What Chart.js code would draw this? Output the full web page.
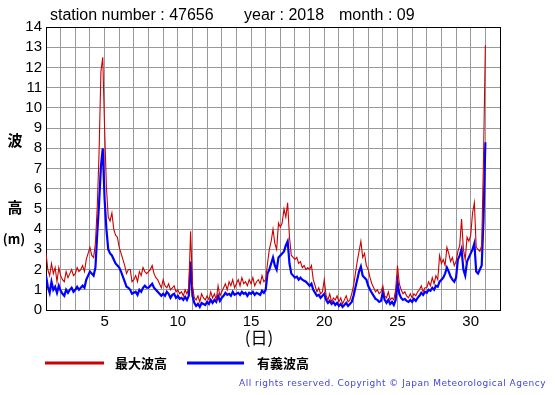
<!DOCTYPE html>
<html>
<head>
<meta charset="utf-8">
<script src="https://cdn.jsdelivr.net/npm/chart.js@4"></script>
<style>
  html, body { margin: 0; padding: 0; background: #fff; }
  #wrap { position: relative; width: 555px; height: 395px; }
</style>
</head>
<body>
<div id="wrap"><canvas id="wave" width="555" height="395"></canvas></div>
<script>
const stationText = "station number : 47656";
const yearText = "year : 2018";
const monthText = "month : 09";
const seriesNames = ["最大波高", "有義波高"];
const xTickLabels = [5, 10, 15, 20, 25, 30];
const yTickLabels = [0, 1, 2, 3, 4, 5, 6, 7, 8, 9, 10, 11, 12, 13, 14];

// 3-hourly readings, from day 1 00:00 to day 31 00:00 (one row per day)
const stepHours = 3;
const maxWave = [
    2.8, 2.0, 1.7, 2.3, 1.8, 2.1, 1.4, 2.1,
    1.7, 1.5, 1.4, 1.9, 1.6, 1.8, 2.0, 1.7,
    1.8, 2.1, 1.9, 2.0, 2.2, 1.9, 2.5, 2.8,
    3.1, 2.7, 2.6, 3.3, 5.1, 7.8, 11.8, 12.5,
    9.0, 6.1, 4.6, 4.4, 4.8, 4.0, 3.7, 3.6,
    3.1, 2.8, 2.5, 2.2, 1.8, 2.0, 2.0, 1.4,
    1.5, 1.7, 1.4, 1.9, 1.7, 2.1, 1.9, 1.8,
    1.9, 2.0, 2.2, 1.8, 1.6, 1.5, 1.3, 1.1,
    1.5, 1.2, 1.1, 1.3, 1.0, 1.1, 1.2, 0.9,
    1.0, 0.8, 0.9, 0.7, 1.0, 0.8, 1.1, 3.9,
    1.2, 0.6, 0.5, 0.7, 0.4, 0.8, 0.6, 0.5,
    0.7, 0.5, 0.9, 0.6, 0.8, 0.5, 1.2, 0.7,
    0.9, 1.1, 1.3, 1.0, 1.4, 1.2, 1.5, 1.1,
    1.3, 1.5, 1.2, 1.6, 1.3, 1.4, 1.2, 1.5,
    1.3, 1.6, 1.2, 1.4, 1.5, 1.3, 1.7, 1.4,
    1.5, 2.3, 3.0, 3.4, 4.0, 3.3, 3.0, 4.3,
    4.1, 4.3, 5.0, 4.6, 5.3, 3.6, 2.7, 2.6,
    2.5, 2.6, 2.3, 2.4, 2.1, 2.2, 2.0, 2.1,
    2.0, 2.2, 1.5, 1.2, 0.9, 1.1, 0.8, 0.9,
    1.5, 0.7, 0.5, 0.8, 0.4, 0.6, 0.5, 0.7,
    0.4, 0.6, 0.3, 0.5, 0.7, 0.4, 0.5, 0.8,
    1.2, 1.8, 2.4, 2.9, 3.4, 2.6, 2.8, 2.2,
    2.0, 1.6, 1.3, 1.1, 0.9, 1.0, 0.8, 0.9,
    1.2, 0.7, 0.6, 0.9, 0.5, 0.6, 0.5, 1.0,
    2.2, 1.3, 1.0, 0.8, 0.9, 0.7, 0.6, 0.8,
    0.6, 0.8, 0.7, 0.9, 1.0, 1.2, 0.9, 1.1,
    1.1, 1.4, 1.2, 1.6, 1.3, 1.7, 1.5, 2.7,
    2.3, 2.5, 2.2, 3.1, 2.8, 2.4, 2.6, 2.2,
    2.4, 2.9, 3.2, 4.5, 3.0, 2.5, 3.6, 3.4,
    3.7, 4.8, 5.3, 3.1, 3.0, 2.9, 3.2, 7.5,
    13.1
];
const sigWave = [
    1.7, 1.15, 0.85, 1.4, 1.0, 1.15, 0.85, 1.2,
    0.95, 0.8, 0.7, 1.0, 0.85, 1.0, 1.1, 0.9,
    1.0, 1.15, 1.0, 1.1, 1.2, 1.1, 1.5, 1.7,
    1.9, 1.8, 1.7, 2.1, 3.8, 5.3, 7.1, 8.0,
    5.5, 4.0, 3.0, 2.8, 2.7, 2.5, 2.3, 2.2,
    2.1, 1.9, 1.65, 1.4, 1.15, 1.1, 1.0, 0.8,
    0.85, 0.9, 0.75, 1.0, 0.9, 1.1, 1.2, 1.1,
    1.1, 1.2, 1.3, 1.1, 1.0, 0.9, 0.8, 0.7,
    0.8, 0.7, 0.9, 0.8, 0.6, 0.75, 0.8, 0.6,
    0.7, 0.55, 0.6, 0.5, 0.65, 0.5, 0.7, 2.4,
    0.7, 0.35, 0.2, 0.3, 0.15, 0.35, 0.3, 0.25,
    0.4, 0.3, 0.5, 0.35, 0.5, 0.4, 0.7, 0.45,
    0.6, 0.7, 0.85, 0.75, 0.8, 0.7, 0.9, 0.75,
    0.8, 0.85, 0.75, 0.9, 0.8, 0.85, 0.7, 0.85,
    0.8, 0.9, 0.75, 0.85, 0.8, 0.75, 0.95, 0.85,
    1.0, 1.8, 2.0, 2.3, 2.6, 2.2, 2.0, 2.6,
    2.7, 2.8, 2.9, 3.2, 3.4, 2.3, 1.8, 1.7,
    1.6, 1.65, 1.5, 1.6, 1.5, 1.45, 1.4, 1.3,
    1.2, 1.3, 1.0, 0.85, 0.7, 0.75, 0.6, 0.7,
    0.8, 0.5, 0.35, 0.45, 0.3, 0.4, 0.25, 0.35,
    0.2, 0.3, 0.15, 0.25, 0.35, 0.2, 0.3, 0.4,
    0.7, 1.1, 1.5, 1.9, 2.15, 1.7, 1.6, 1.5,
    1.2, 1.0, 0.85, 0.7, 0.55, 0.5, 0.4, 0.45,
    0.9, 0.5, 0.35, 0.5, 0.3, 0.4, 0.25, 0.5,
    1.4, 0.8, 0.6, 0.5, 0.55, 0.45, 0.4, 0.5,
    0.4, 0.55, 0.45, 0.6, 0.7, 0.85, 0.75, 0.9,
    0.85, 1.0, 0.95, 1.1, 1.0, 1.2, 1.15, 1.4,
    1.5, 1.6, 1.8, 2.1, 1.9, 1.65, 1.5, 1.4,
    1.6, 2.5, 2.7, 3.0, 2.0, 1.7, 2.4, 2.6,
    2.8, 3.0, 3.3, 1.9, 1.8, 2.0, 2.2, 4.5,
    8.3
];

const toPoints = (arr) => arr.map((v, i) => ({ x: 1 + i * stepHours / 24, y: v }));

// titles, frame, legend and copyright drawn straight on the canvas
const decorations = {
    id: "decorations",
    beforeDatasetsDraw(chart) {
        const { ctx, chartArea: a } = chart;
        ctx.save();
        ctx.strokeStyle = "#000";
        ctx.lineWidth = 1;
        ctx.strokeRect(Math.round(a.left) + 0.5, Math.round(a.top) + 0.5,
            Math.round(a.right - a.left), Math.round(a.bottom - a.top));
        ctx.restore();
    },
    afterDraw(chart) {
        const ctx = chart.ctx;
        ctx.save();
        ctx.fillStyle = "#000";
        ctx.textBaseline = "alphabetic";
        ctx.font = '16px "Liberation Sans", Arial, sans-serif';
        ctx.fillText(stationText, 50, 20);
        ctx.fillText(yearText, 244, 20);
        ctx.fillText(monthText, 339, 20);

        ctx.font = 'bold 15px "Noto Sans CJK JP", sans-serif';
        ctx.textAlign = "center";
        ctx.textBaseline = "middle";
        ctx.fillText("波", 15, 140);
        ctx.fillText("高", 15, 207);
        ctx.font = 'bold 13px "Noto Sans CJK JP", sans-serif';
        ctx.fillText("(m)", 14, 239);

        ctx.font = '17px "Noto Sans CJK JP", sans-serif';
        ctx.fillText("(日)", 259, 338);

        // legend
        ctx.lineWidth = 3;
        ctx.strokeStyle = "#cc0000";
        ctx.beginPath(); ctx.moveTo(45, 363); ctx.lineTo(104, 363); ctx.stroke();
        ctx.strokeStyle = "#0000ff";
        ctx.beginPath(); ctx.moveTo(187, 363); ctx.lineTo(244, 363); ctx.stroke();
        ctx.textAlign = "left";
        ctx.font = 'bold 13px "Noto Sans CJK JP", sans-serif';
        ctx.fillText(seriesNames[0], 115, 363);
        ctx.fillText(seriesNames[1], 257, 363);

        // copyright
        const copy = "All rights reserved. Copyright \u00a9 Japan Meteorological Agency";
        ctx.font = '9px "DejaVu Sans", sans-serif';
        ctx.fillStyle = "#4444dd";
        const w = ctx.measureText(copy).width;
        ctx.letterSpacing = ((307 - w) / copy.length).toFixed(2) + "px";
        ctx.fillText(copy, 239, 384);
        ctx.restore();
    }
};

new Chart(document.getElementById("wave"), {
    type: "line",
    plugins: [decorations],
    data: {
        datasets: [
            {
                label: seriesNames[0],
                data: toPoints(maxWave),
                borderColor: "#cc0000",
                borderWidth: 1.1,
                pointRadius: 0,
                tension: 0,
            },
            {
                label: seriesNames[1],
                data: toPoints(sigWave),
                borderColor: "#0000ff",
                borderWidth: 2.2,
                pointRadius: 0,
                tension: 0,
            },
        ],
    },
    options: {
        responsive: false,
        animation: false,
        layout: { padding: { left: 0, right: 55, top: 27, bottom: 0 } },
        plugins: {
            legend: { display: false },
            tooltip: { enabled: false },
        },
        scales: {
            x: {
                type: "linear",
                min: 1,
                max: 32,
                afterFit: (s) => { s.height = 85; },
                grid: { color: "#999", drawTicks: false },
                border: { color: "#000" },
                ticks: {
                    stepSize: 1,
                    autoSkip: false,
                    maxRotation: 0,
                    padding: 3,
                    color: "#000",
                    font: { family: '"Liberation Sans", Arial, sans-serif', size: 15 },
                    callback: (v) => xTickLabels.includes(v) ? String(v) : "",
                },
            },
            y: {
                min: 0,
                max: 14,
                afterFit: (s) => { s.width = 46; },
                grid: { color: "#999", drawTicks: false },
                border: { color: "#000" },
                ticks: {
                    stepSize: 1,
                    autoSkip: false,
                    padding: 4,
                    color: "#000",
                    font: { family: '"Liberation Sans", Arial, sans-serif', size: 15 },
                    callback: (v) => yTickLabels.includes(v) ? String(v) : "",
                },
            },
        },
    },
});
</script>
</body>
</html>
